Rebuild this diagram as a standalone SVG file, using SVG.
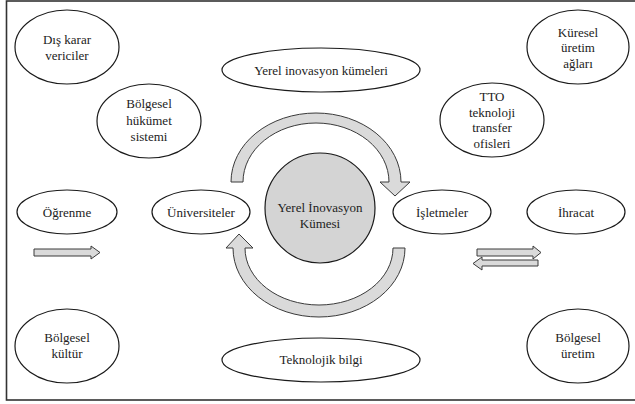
<svg xmlns="http://www.w3.org/2000/svg" width="635" height="404" viewBox="0 0 635 404">
<style>
.n{fill:#fff;stroke:#1a1a1a;stroke-width:1.2}
.c{fill:#d4d4d4;stroke:#1a1a1a;stroke-width:1.2}
.a{fill:#dadada;stroke:#3a3a3a;stroke-width:1}
.t text{font-size:13px;fill:#222;text-anchor:middle}
</style>
<rect x="0" y="0" width="635" height="404" fill="#fff"/>
<rect x="6.5" y="1" width="640" height="399" fill="none" stroke="#333" stroke-width="1.6"/>
<g id="connectors">
<path class="a" d="M231 182 A85 69 0 0 1 401 182 L410 182 L395 196 L380 182 L389 182 A73 59 0 0 0 243 182 Z"/>
<path class="a" d="M405 248 A86 69 0 0 1 233 248 L226 248 L239 234 L253 248 L245 248 A74 57 0 0 0 393 248 Z"/>
<path class="a" d="M34 249 H91 V246 L100 252.5 L91 259 V256 H34 Z"/>
<path class="a" d="M477 249 H533 V246 L541 252.5 L533 259 V256 H477 Z"/>
<path class="a" d="M538 260 H482 V257 L473 263.5 L482 270 V266 H538 Z"/>
</g>
<g class="t" font-family="Liberation Serif, Tinos, DejaVu Serif, serif">
<g id="dis-karar"><ellipse class="n" cx="67" cy="47" rx="52" ry="37"/><text x="67" y="44">Dış karar</text><text x="67" y="60">vericiler</text></g>
<g id="yerel-inovasyon-kumeleri"><ellipse class="n" cx="321" cy="70" rx="99" ry="22"/><text x="321" y="75">Yerel inovasyon kümeleri</text></g>
<g id="bolgesel-hukumet"><ellipse class="n" cx="149" cy="121" rx="52" ry="37"/><text x="149" y="108">Bölgesel</text><text x="149" y="124.5">hükümet</text><text x="149" y="141">sistemi</text></g>
<g id="kuresel-uretim"><ellipse class="n" cx="578" cy="47" rx="51" ry="37"/><text x="578" y="36.5">Küresel</text><text x="578" y="52">üretim</text><text x="578" y="67.5">ağları</text></g>
<g id="tto"><ellipse class="n" cx="492" cy="120" rx="52" ry="37"/><text x="492" y="101">TTO</text><text x="492" y="116.5">teknoloji</text><text x="492" y="132">transfer</text><text x="492" y="147.5">ofisleri</text></g>
<g id="ogrenme"><ellipse class="n" cx="67" cy="212" rx="50" ry="22"/><text x="67" y="216.5">Öğrenme</text></g>
<g id="universiteler"><ellipse class="n" cx="201" cy="212" rx="49" ry="22"/><text x="201" y="216.5">Üniversiteler</text></g>
<g id="merkez"><circle class="c" cx="320" cy="208" r="55"/><text x="320" y="211.5">Yerel İnovasyon</text><text x="320" y="227.5">Kümesi</text></g>
<g id="isletmeler"><ellipse class="n" cx="442" cy="212" rx="49" ry="22"/><text x="442" y="216.5">İşletmeler</text></g>
<g id="ihracat"><ellipse class="n" cx="576" cy="212" rx="49" ry="22"/><text x="576" y="216.5">İhracat</text></g>
<g id="bolgesel-kultur"><ellipse class="n" cx="67" cy="346" rx="52" ry="37"/><text x="67" y="341.5">Bölgesel</text><text x="67" y="357.5">kültür</text></g>
<g id="teknolojik-bilgi"><ellipse class="n" cx="321" cy="360" rx="99" ry="22"/><text x="321" y="364">Teknolojik bilgi</text></g>
<g id="bolgesel-uretim"><ellipse class="n" cx="578" cy="346" rx="51" ry="37"/><text x="578" y="341.5">Bölgesel</text><text x="578" y="357.5">üretim</text></g>
</g>
</svg>
